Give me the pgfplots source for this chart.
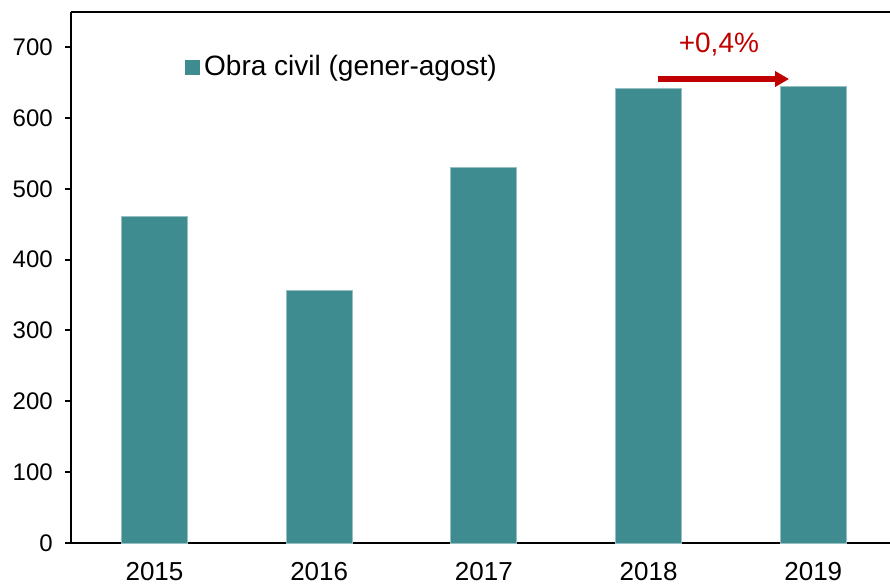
\documentclass[border=0pt]{standalone}
\usepackage{pgfplots}
\pgfplotsset{compat=1.18}
\usepackage{fontspec}
\setmainfont{Liberation Sans}
\usetikzlibrary{arrows.meta}
\definecolor{barc}{RGB}{62,139,144}
\definecolor{annred}{RGB}{192,0,0}
\begin{document}
\begin{tikzpicture}
\begin{axis}[
  at={(0,0)}, anchor=south west,
  scale only axis, width=409.5bp, height=265.65bp,
  xmin=-0.507, xmax=4.466, ymin=0, ymax=750,
  axis x line*=bottom, axis y line*=left,
  axis line style={-, line width=1bp, black},
  ytick={0,100,...,700},
  xtick={0,1,2,3,4},
  xticklabels={2015,2016,2017,2018,2019},
  x tick style={draw=none},
  y tick style={line width=1bp, black},
  tick align=outside, major tick length=3bp,
  /pgf/number format/assume math mode=true,
  yticklabel style={font=\fontsize{12bp}{14bp}\selectfont, xshift=-2.6bp},
  xticklabel style={font=\fontsize{13bp}{15bp}\selectfont, yshift=-3bp},
  legend style={at={(axis description cs:0.1392,0.896)}, anchor=west,
    draw=none, fill=none, inner sep=0pt,
    font=\fontsize{14bp}{16bp}\selectfont},
  legend image code/.code={\fill[barc] (-1bp,-3.5bp) rectangle (6bp,3.5bp);},
  clip=false,
]
\addplot[ybar, bar width=33bp, fill=barc, draw=barc!55!white, line width=0.4bp]
  coordinates {(0,461) (1,357) (2,530) (3,642) (4,645)};
\legend{Obra civil (gener-agost)}
\draw[line width=1bp, black] (rel axis cs:0,1) -- (rel axis cs:1,1);
\draw[annred, line width=3bp, -{Triangle[length=7bp,width=7.5bp]}]
  (axis cs:3.057,655) -- (axis cs:3.853,655);
\node[annred, font=\fontsize{14bp}{16bp}\selectfont] at (axis cs:3.427,703.4) {+0,4\%};
\end{axis}
\pgfresetboundingbox
\path (-35.5bp,-20.5bp) rectangle (409.5bp,271.5bp);
\end{tikzpicture}
\end{document}
